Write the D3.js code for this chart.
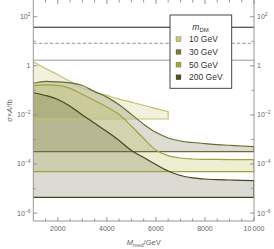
<!DOCTYPE html>
<html><head><meta charset="utf-8">
<script src="https://cdn.jsdelivr.net/npm/d3@7"></script>
<style>body{margin:0;background:#fff}svg{display:block}</style></head>
<body>
<svg id="c" width="274" height="249"></svg>
<script>
// ---- data ----
const mMed = [1000,1500,2000,2500,3000,3500,4000,4500,5000,5500,6000,6500,7000,7500,8000,8500,9000,9500,10000];
const sig10 = [1.46,0.78,0.43,0.23,0.125,0.087,0.062,0.044,0.033,0.0248,0.0179,0.0135];
const sig30 = [0.194,0.234,0.223,0.2,0.158,0.089,0.053,0.026,0.0105,0.0042,0.00195,0.00115,8.65e-4,7.5e-4,6.8e-4,6.2e-4,5.8e-4,5.4e-4,5.07e-4];
const sig50 = [0.155,0.168,0.158,0.121,0.069,0.0386,0.021,0.0104,0.00353,0.00109,3.7e-4,2.2e-4,1.75e-4,1.6e-4,1.55e-4,1.53e-4,1.52e-4,1.52e-4,1.52e-4];
const sig200 = [0.080,0.0617,0.0424,0.0226,0.0099,0.0046,0.0021,9.06e-4,3.55e-4,1.84e-4,9.5e-5,5.2e-5,3.4e-5,2.74e-5,2.45e-5,2.31e-5,2.23e-5,2.15e-5,2.09e-5];
const floors = [0.0068, 3.2e-4, 4.85e-5, 4.4e-6];
const massLabels = ["10 GeV","30 GeV","50 GeV","200 GeV"];
const limitLines = [37, 8.2, 1.7];
const xMajor = [2000,4000,6000,8000,10000];
const yMajorExp = [-6,-4,-2,0,2];
const yMinorExp = [-5,-3,-1,1];

// ---- styles ----
const lineCol = ["#c4c272","#6b6b35","#a3a13c","#46461f"];
const fillCol = ["rgb(200,200,120)","rgb(100,100,60)","rgb(180,180,60)","rgb(75,75,35)"];
const fillOp = [0.25,0.225,0.23,0.2];
const legCol = ["#c9c77b","#7a7a3c","#a6a440","#4f4f26"];

const L=33.3, R=254, T=0, B=221;
const x = d3.scaleLinear().domain([1000,10000]).range([L,R]);
const y = d3.scaleLog().domain([Math.pow(10,-6.322), Math.pow(10,2.68)]).range([B,T]);
const svg = d3.select("#c");
const font = "'Liberation Sans', Arial, sans-serif";

svg.append("defs").append("clipPath").attr("id","clip")
  .append("rect").attr("x",L).attr("y",T).attr("width",R-L).attr("height",B-T);
const plot = svg.append("g").attr("clip-path","url(#clip)");

const series = [sig10, sig30, sig50, sig200];
const line = d3.line().x(d=>x(d[0])).y(d=>y(d[1])).curve(d3.curveMonotoneX);

series.forEach((s,i)=>{
  const pts = s.map((v,j)=>[mMed[j], v]);
  const mEnd = mMed[s.length-1];
  const area = d3.area().x(d=>x(d[0])).y0(y(floors[i])).y1(d=>y(d[1])).curve(d3.curveMonotoneX);
  plot.append("path").attr("d", area(pts)).attr("fill", fillCol[i]).attr("fill-opacity", fillOp[i]);
});
series.forEach((s,i)=>{
  const pts = s.map((v,j)=>[mMed[j], v]);
  const mEnd = mMed[s.length-1];
  const d = line(pts) + "L" + x(mEnd) + "," + y(floors[i]) + "L" + x(1000) + "," + y(floors[i]);
  plot.append("path").attr("d", d).attr("fill","none").attr("stroke", lineCol[i]).attr("stroke-width",1.2);
});

// limit lines
const limStyles = [{c:"#222",w:1.1,da:null},{c:"#aaa",w:1.1,da:"3.5,2"},{c:"#bbb",w:1.5,da:null}];
limitLines.forEach((v,i)=>{
  plot.append("line").attr("x1",L).attr("x2",R).attr("y1",y(v)).attr("y2",y(v))
    .attr("stroke",limStyles[i].c).attr("stroke-width",limStyles[i].w)
    .attr("stroke-dasharray",limStyles[i].da);
});

// frame
const ax = svg.append("g").attr("stroke","#8a8a8a").attr("stroke-width",0.9).attr("fill","none");
ax.append("line").attr("x1",L).attr("x2",L).attr("y1",T).attr("y2",B);
ax.append("line").attr("x1",R).attr("x2",R).attr("y1",T).attr("y2",B);
ax.append("line").attr("x1",L).attr("x2",R).attr("y1",B).attr("y2",B);

// x ticks
const xMinor = d3.range(1500,10000,500).filter(v=>!xMajor.includes(v));
xMajor.forEach(v=>{
  ax.append("line").attr("x1",x(v)).attr("x2",x(v)).attr("y1",B).attr("y2",B-4);
  ax.append("line").attr("x1",x(v)).attr("x2",x(v)).attr("y1",T).attr("y2",T+4);
});
xMinor.forEach(v=>{
  ax.append("line").attr("x1",x(v)).attr("x2",x(v)).attr("y1",B).attr("y2",B-2.5);
  ax.append("line").attr("x1",x(v)).attr("x2",x(v)).attr("y1",T).attr("y2",T+2.5);
});
const tl = svg.append("g").attr("font-family",font).attr("font-size",7).attr("fill","#666");
xMajor.forEach(v=>{
  tl.append("text").attr("x",x(v)).attr("y",231).attr("text-anchor","middle")
    .text(v===10000 ? "10\u2009000" : String(v));
});

// y ticks
yMajorExp.forEach(e=>{
  const yy = y(Math.pow(10,e));
  ax.append("line").attr("x1",L).attr("x2",L+4).attr("y1",yy).attr("y2",yy);
  ax.append("line").attr("x1",R).attr("x2",R-4).attr("y1",yy).attr("y2",yy);
  [{xx:30.5,anc:"end"},{xx:257,anc:"start"}].forEach(p=>{
    const t = tl.append("text").attr("x",p.xx).attr("y",yy+2.5).attr("text-anchor",p.anc);
    if(e===0){ t.text("1"); }
    else {
      t.append("tspan").text("10");
      t.append("tspan").attr("font-size",5).attr("dy",-3).text(e<0 ? "\u2212"+(-e) : String(e));
    }
  });
});
yMinorExp.forEach(e=>{
  const yy = y(Math.pow(10,e));
  ax.append("line").attr("x1",L).attr("x2",L+2.5).attr("y1",yy).attr("y2",yy);
  ax.append("line").attr("x1",R).attr("x2",R-2.5).attr("y1",yy).attr("y2",yy);
});

// axis titles
const xt = svg.append("text").attr("x",(L+R)/2).attr("y",245).attr("text-anchor","middle")
  .attr("font-family",font).attr("font-size",7.5).attr("fill","#666");
xt.append("tspan").attr("font-style","italic").text("M");
xt.append("tspan").attr("font-size",5.5).attr("dy",2).text("med");
xt.append("tspan").attr("dy",-2).text("/GeV");

const yt = svg.append("text").attr("transform","translate(12,"+((T+B)/2)+") rotate(-90)")
  .attr("text-anchor","middle").attr("font-family",font).attr("font-size",7.5).attr("fill","#666");
yt.append("tspan").attr("font-style","italic").text("\u03C3");
yt.append("tspan").text("\u00D7");
yt.append("tspan").attr("font-style","italic").text("A");
yt.append("tspan").text("/fb");

// legend
const lg = svg.append("g");
lg.append("rect").attr("x",170).attr("y",15).attr("width",61.7).attr("height",73.3)
  .attr("fill","#fff").attr("stroke","#333").attr("stroke-width",0.9);
const lt = lg.append("text").attr("x",200.5).attr("y",30).attr("text-anchor","middle")
  .attr("font-family",font).attr("font-size",8.5).attr("fill","#333");
lt.append("tspan").attr("font-style","italic").text("m");
lt.append("tspan").attr("font-size",6).attr("dy",2).text("DM");
massLabels.forEach((m,i)=>{
  const cy = 39.2 + i*12.7;
  lg.append("rect").attr("x",176).attr("y",cy-2.5).attr("width",5).attr("height",5)
    .attr("fill",legCol[i]).attr("stroke","#555").attr("stroke-width",0.3);
  lg.append("text").attr("x",189).attr("y",cy+3).attr("font-family",font).attr("font-size",8.5)
    .attr("fill","#333").text(m);
});
</script>
</body></html>
